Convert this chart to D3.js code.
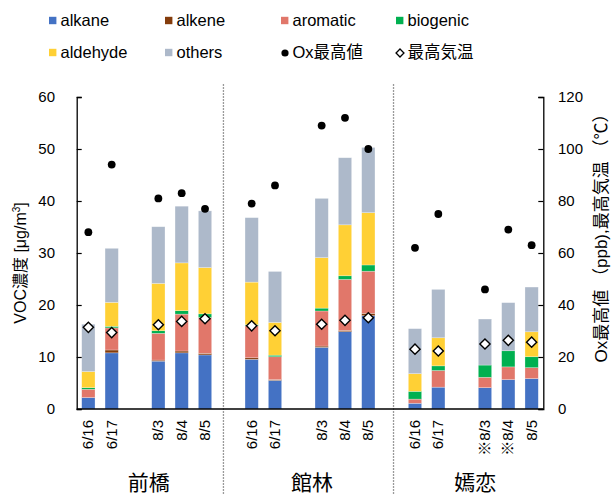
<!DOCTYPE html>
<html>
<head>
<meta charset="utf-8">
<script src="https://cdn.jsdelivr.net/npm/d3@7"></script>
<style>
  html, body { margin: 0; padding: 0; background: #fff; }
  svg text { font-family: "Liberation Sans", Arial, "Noto Sans CJK JP", sans-serif; fill: #000; }
</style>
</head>
<body>
<svg id="chart" width="613" height="495"></svg>
<script>
// Sites and sampling days
const sites = ["前橋", "館林", "嫣恋"];
const dayLabels = [
  ["6/16", "6/17", "8/3", "8/4", "8/5"],
  ["6/16", "6/17", "8/3", "8/4", "8/5"],
  ["6/16", "6/17", "※8/3", "※8/4", "8/5"]
];
// Slot of each day inside a site block (slot 2 and 6 stay empty)
const daySlots = [0, 1, 3, 4, 5];
const slotsPerSite = 7;
const totalSlots = 20;
// Dividers between site blocks, in slot units
const dividerSlots = [6.29, 13.58];

// VOC composition [µg/m³], 15 bars in site/day order
const alkane   = [2.2, 10.8, 9.2, 10.8, 10.4,   9.55, 5.5, 11.85, 14.87, 17.95,   1.1, 4.2, 4.1, 5.65, 5.85];
const alkene   = [0, 0.55, 0.2, 0.35, 0.3,      0.3, 0.15, 0.25, 0.25, 0.45,      0, 0, 0, 0, 0];
const aromatic = [1.6, 4.25, 5.15, 7.1, 6.9,    6.15, 4.4, 6.75, 9.8, 8.1,        0.8, 3.2, 2.0, 2.45, 2.1];
const biogenic = [0.3, 0.3, 0.5, 0.65, 0.7,     0.2, 0.3, 0.55, 0.7, 1.2,         1.5, 0.9, 2.35, 3.1, 2.1];
const aldehyde = [3.1, 4.6, 9.1, 9.2, 8.9,      8.2, 6.3, 9.7, 9.8, 10.05,        3.4, 5.4, 0, 0, 4.8];
const others   = [9.1, 10.4, 10.9, 10.9, 10.9,  12.4, 9.8, 11.4, 12.9, 12.55,     8.65, 9.3, 8.85, 9.25, 8.6];

// Daily maxima (right axis)
const oxMax   = [68, 94, 81, 83, 77,   79, 86, 109, 112, 100,   62, 75, 46, 69, 63];
const tempMax = [31.4, 29.4, 32.4, 33.7, 34.7,   32.0, 30.1, 32.6, 34.1, 35.1,   23.0, 22.3, 25.0, 26.4, 25.7];

const leftTicks = [0, 10, 20, 30, 40, 50, 60];
const rightTicks = [0, 20, 40, 60, 80, 100, 120];

const seriesNames = ["alkane", "alkene", "aromatic", "biogenic", "aldehyde", "others"];
const seriesValues = [alkane, alkene, aromatic, biogenic, aldehyde, others];
const seriesColors = ["#4472C4", "#843C0C", "#E1776A", "#00B050", "#FFD035", "#ADB9CA"];

// Build rows for the stack layout
const rows = [];
sites.forEach((s, g) => {
  dayLabels[g].forEach((lab, d) => {
    const i = g * 5 + d;
    const row = { site: s, label: lab, slot: g * slotsPerSite + daySlots[d], ox: oxMax[i], temp: tempMax[i] };
    seriesNames.forEach((n, k) => { row[n] = seriesValues[k][i]; });
    rows.push(row);
  });
});

const svg = d3.select("#chart");
const plot = { left: 76.7, right: 543.3, top: 97, bottom: 409 };

const x = d3.scaleLinear().domain([0, totalSlots]).range([plot.left, plot.right]);
const yL = d3.scaleLinear().domain([0, 60]).range([plot.bottom, plot.top]);
const yR = d3.scaleLinear().domain([0, 120]).range([plot.bottom, plot.top]);
const barW = 13.3;
const cx = d => x(d.slot + 0.5);

// Site dividers
svg.append("g").selectAll("line").data(dividerSlots).join("line")
  .attr("x1", d => x(d)).attr("x2", d => x(d))
  .attr("y1", 84).attr("y2", 495)
  .attr("stroke", "#9a9a9a").attr("stroke-width", 1.3)
  .attr("stroke-dasharray", "2,1");

// Stacked bars
const stack = d3.stack().keys(seriesNames)(rows);
svg.append("g").selectAll("g").data(stack).join("g")
  .attr("fill", (d, i) => seriesColors[i])
  .selectAll("rect").data(d => d).join("rect")
  .attr("x", d => cx(d.data) - barW / 2)
  .attr("width", barW)
  .attr("y", d => yL(d[1]))
  .attr("height", d => Math.max(0, yL(d[0]) - yL(d[1])))
  .attr("stroke", "rgba(255,255,255,0.45)")
  .attr("stroke-width", 0.6);

// Axes
const axisL = svg.append("g").attr("transform", `translate(${plot.left},0)`)
  .call(d3.axisRight(yL).tickValues(leftTicks).tickSize(5).tickFormat(""));
const axisR = svg.append("g").attr("transform", `translate(${plot.right},0)`)
  .call(d3.axisLeft(yR).tickValues(rightTicks).tickSize(5).tickFormat(""));
[axisL, axisR].forEach(a => {
  a.select(".domain").attr("stroke", "#000").attr("stroke-width", 1.3);
  a.selectAll(".tick line").attr("stroke", "#000").attr("stroke-width", 1.2);
});
svg.append("line")
  .attr("x1", plot.left).attr("x2", plot.right)
  .attr("y1", yL(0)).attr("y2", yL(0))
  .attr("stroke", "#000").attr("stroke-width", 1.3);

// Tick labels
svg.append("g").selectAll("text").data(leftTicks).join("text")
  .attr("x", 55).attr("y", d => yL(d)).attr("dy", "0.36em")
  .attr("text-anchor", "end").attr("font-size", 15).text(d => d);
svg.append("g").selectAll("text").data(rightTicks).join("text")
  .attr("x", 558).attr("y", d => yR(d)).attr("dy", "0.36em")
  .attr("text-anchor", "start").attr("font-size", 15).text(d => d);

// Category labels (rotated)
svg.append("g").selectAll("text").data(rows).join("text")
  .attr("transform", d => `translate(${cx(d) + 5},420) rotate(-90)`)
  .attr("text-anchor", "end").attr("font-size", 15)
  .text(d => d.label);

// Site names
svg.append("g").selectAll("text").data(sites).join("text")
  .attr("x", (s, g) => {
    const r = rows.filter(d => d.site === s);
    return (cx(r[0]) + cx(r[r.length - 1])) / 2 + 2;
  })
  .attr("y", 490).attr("text-anchor", "middle").attr("font-size", 21)
  .text(d => d);

// Axis titles
svg.append("text")
  .attr("transform", "translate(26,263) rotate(-90)")
  .attr("text-anchor", "middle").attr("font-size", 16)
  .html('VOC濃度 [μg/m<tspan dy="-6" font-size="10">3</tspan><tspan dy="6">]</tspan>');
svg.append("text")
  .attr("transform", "translate(607,234) rotate(-90)")
  .attr("text-anchor", "middle").attr("font-size", 17)
  .text("Ox最高値 （ppb),最高気温 （℃）");

// Ox maxima
svg.append("g").selectAll("circle").data(rows).join("circle")
  .attr("cx", d => cx(d)).attr("cy", d => yR(d.ox)).attr("r", 3.9)
  .attr("fill", "#000");

// Temperature maxima
const diamond = d3.symbol().type(d3.symbolDiamond2).size(66);
svg.append("g").selectAll("path").data(rows).join("path")
  .attr("transform", d => `translate(${cx(d)},${yR(d.temp)})`)
  .attr("d", diamond)
  .attr("fill", "#fff").attr("stroke", "#000").attr("stroke-width", 1.4);

// Legend
const legendItems = [
  { name: "alkane", kind: "rect", color: seriesColors[0], col: 0, row: 0 },
  { name: "alkene", kind: "rect", color: seriesColors[1], col: 1, row: 0 },
  { name: "aromatic", kind: "rect", color: seriesColors[2], col: 2, row: 0 },
  { name: "biogenic", kind: "rect", color: seriesColors[3], col: 3, row: 0 },
  { name: "aldehyde", kind: "rect", color: seriesColors[4], col: 0, row: 1 },
  { name: "others", kind: "rect", color: seriesColors[5], col: 1, row: 1 },
  { name: "Ox最高値", kind: "dot", col: 2, row: 1 },
  { name: "最高気温", kind: "diamond", col: 3, row: 1 }
];
const legendX = [49, 165, 281, 396];
const legendY = [20.5, 52.5];
const lg = svg.append("g").selectAll("g").data(legendItems).join("g")
  .attr("transform", d => `translate(${legendX[d.col]},${legendY[d.row]})`);
lg.filter(d => d.kind === "rect").append("rect")
  .attr("x", 0).attr("y", -3.7).attr("width", 7.4).attr("height", 7.4)
  .attr("fill", d => d.color);
lg.filter(d => d.kind === "dot").append("circle")
  .attr("cx", 4).attr("cy", 0.5).attr("r", 3.6).attr("fill", "#000");
lg.filter(d => d.kind === "diamond").append("path")
  .attr("transform", "translate(4,0.5)")
  .attr("d", d3.symbol().type(d3.symbolDiamond2).size(40))
  .attr("fill", "#fff").attr("stroke", "#000").attr("stroke-width", 1.3);
lg.append("text")
  .attr("x", 11.5).attr("y", 0).attr("dy", "0.36em")
  .attr("font-size", 16.5).text(d => d.name);
</script>
</body>
</html>
